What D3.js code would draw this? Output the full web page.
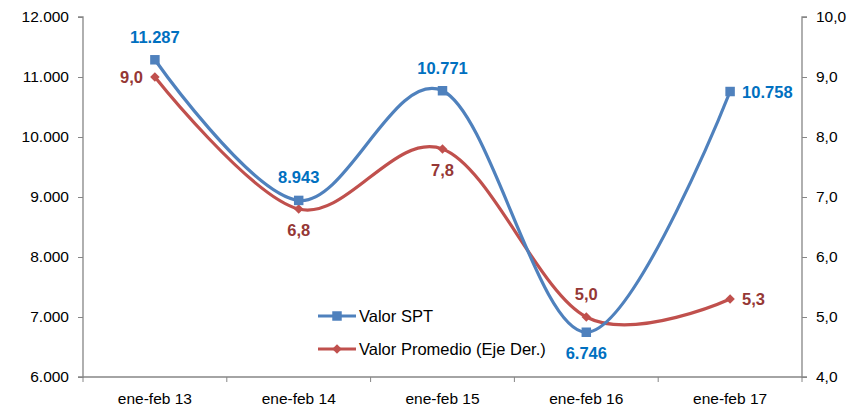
<!DOCTYPE html>
<html>
<head>
<meta charset="utf-8">
<script src="https://cdn.jsdelivr.net/npm/d3@7"></script>
<style>
  body { margin: 0; background: #fff; }
  text { font-family: "Liberation Sans", Arial, sans-serif; }
</style>
</head>
<body>
<div id="container"></div>
<script>
var categories = ['ene-feb 13', 'ene-feb 14', 'ene-feb 15', 'ene-feb 16', 'ene-feb 17']
var valorSPT = [11287, 8943, 10771, 6746, 10758]
var valorPromedio = [9.0, 6.8, 7.8, 5.0, 5.3]
var leftTicks = [6000, 7000, 8000, 9000, 10000, 11000, 12000]
var rightTicks = [4, 5, 6, 7, 8, 9, 10]

var width = 857, height = 411
var pLeft = 83, pRight = 802, pTop = 17, pBottom = 377

var svg = d3.select('#container').append('svg')
    .attr('width', width)
    .attr('height', height)

var x = d3.scaleBand().domain(categories).range([pLeft, pRight])
var yL = d3.scaleLinear().domain([6000, 12000]).range([pBottom, pTop])
var yR = d3.scaleLinear().domain([4, 10]).range([pBottom, pTop])

var fmtL = function(d) { return d3.format(',')(d).replace(/,/g, '.') }
var fmtR = function(d) { return d3.format('.1f')(d).replace('.', ',') }

var axisColor = '#868686'

// left axis
var gL = svg.append('g').attr('transform', 'translate(' + pLeft + ',0)')
    .call(d3.axisLeft(yL).tickValues(leftTicks).tickSize(5).tickPadding(9).tickFormat(fmtL))
// right axis
var gR = svg.append('g').attr('transform', 'translate(' + pRight + ',0)')
    .call(d3.axisRight(yR).tickValues(rightTicks).tickSize(5).tickPadding(9).tickFormat(fmtR))
// bottom axis
var gB = svg.append('g').attr('transform', 'translate(0,' + pBottom + ')')
    .call(d3.axisBottom(x).tickSize(0).tickPadding(16))

// category separator ticks
svg.append('g').selectAll('line')
    .data(d3.range(categories.length + 1))
    .join('line')
    .attr('x1', function(i) { return pLeft + i * x.bandwidth() })
    .attr('x2', function(i) { return pLeft + i * x.bandwidth() })
    .attr('y1', pBottom)
    .attr('y2', pBottom + 5)
    .attr('stroke', axisColor)

;[gL, gR, gB].forEach(function(g) {
    g.select('.domain').attr('stroke', axisColor).attr('stroke-width', 1.3)
    g.selectAll('.tick line').attr('stroke', axisColor)
    g.selectAll('.tick text').attr('font-size', 15.5).attr('fill', '#000')
        .attr('font-family', '"Liberation Sans", Arial, sans-serif')
})
gB.select('.domain').attr('d', 'M' + pLeft + ',0H' + pRight)
gL.select('.domain').attr('d', 'M-5,' + pTop + 'H0V' + pBottom + 'H-5')
gR.select('.domain').attr('d', 'M5,' + pTop + 'H0V' + pBottom + 'H5')

var cx = function(i) { return x(categories[i]) + x.bandwidth() / 2 }
var blue = '#4F81BD', red = '#C0504D'
var blueLbl = '#0070C0', redLbl = '#953735'

var line = d3.line().curve(d3.curveCardinal.tension(0))

svg.append('path')
    .attr('d', line(valorPromedio.map(function(v, i) { return [cx(i), yR(v)] })))
    .attr('fill', 'none').attr('stroke', red).attr('stroke-width', 3.2)
svg.append('path')
    .attr('d', line(valorSPT.map(function(v, i) { return [cx(i), yL(v)] })))
    .attr('fill', 'none').attr('stroke', blue).attr('stroke-width', 3.2)

var sq = d3.symbol().type(d3.symbolSquare).size(90)
var dm = d3.symbol().type(d3.symbolSquare).size(45)

svg.append('g').selectAll('path')
    .data(valorPromedio)
    .join('path')
    .attr('d', dm)
    .attr('transform', function(d, i) { return 'translate(' + cx(i) + ',' + yR(d) + ') rotate(45)' })
    .attr('fill', red)
svg.append('g').selectAll('path')
    .data(valorSPT)
    .join('path')
    .attr('d', sq)
    .attr('transform', function(d, i) { return 'translate(' + cx(i) + ',' + yL(d) + ')' })
    .attr('fill', blue)

// data labels: where each sits relative to its point
var sptPos = ['above', 'above', 'above', 'below', 'right']
var promPos = ['left', 'below', 'below', 'above', 'right']

function placeLabel(sel, pos, px, py) {
    if (pos === 'above') sel.attr('x', px).attr('y', py - 17).attr('text-anchor', 'middle')
    if (pos === 'below') sel.attr('x', px).attr('y', py + 27).attr('text-anchor', 'middle')
    if (pos === 'left') sel.attr('x', px - 12).attr('y', py + 6).attr('text-anchor', 'end')
    if (pos === 'right') sel.attr('x', px + 12).attr('y', py + 6).attr('text-anchor', 'start')
}

valorSPT.forEach(function(v, i) {
    var t = svg.append('text').text(fmtL(v))
        .attr('font-size', 16.5).attr('font-weight', 'bold').attr('fill', blueLbl)
    placeLabel(t, sptPos[i], cx(i), yL(v))
})
valorPromedio.forEach(function(v, i) {
    var t = svg.append('text').text(fmtR(v))
        .attr('font-size', 16.5).attr('font-weight', 'bold').attr('fill', redLbl)
    placeLabel(t, promPos[i], cx(i), yR(v))
})

// legend
var legend = [
    { name: 'Valor SPT', color: blue, sym: sq, rot: '', y: 316 },
    { name: 'Valor Promedio (Eje Der.)', color: red, sym: dm, rot: ' rotate(45)', y: 349 }
]
legend.forEach(function(l) {
    svg.append('line').attr('x1', 318).attr('x2', 356).attr('y1', l.y).attr('y2', l.y)
        .attr('stroke', l.color).attr('stroke-width', 3.2)
    svg.append('path').attr('d', l.sym).attr('transform', 'translate(337,' + l.y + ')' + l.rot).attr('fill', l.color)
    svg.append('text').text(l.name).attr('x', 359).attr('y', l.y + 5.5)
        .attr('font-size', 16.5).attr('fill', '#000')
})
</script>
</body>
</html>
